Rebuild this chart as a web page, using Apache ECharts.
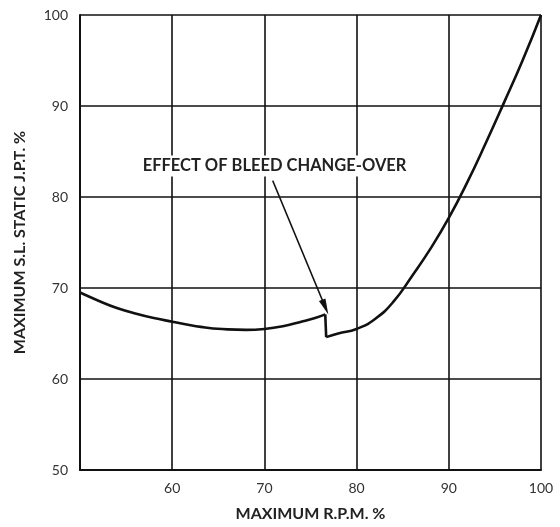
<!DOCTYPE html>
<html>
<head>
<meta charset="utf-8">
<script src="https://cdn.jsdelivr.net/npm/echarts@6/dist/echarts.min.js"></script>
<style>html,body{margin:0;padding:0;background:#fff;}#c{width:560px;height:527px;}</style>
</head>
<body>
<div id="c"></div>
<script>
// RPM % (x) and J.P.T. % (y), before bleed change-over
var rpmBefore = [50, 52, 54, 56, 58, 60, 62, 64, 66, 68, 70, 72, 74, 75.5, 76.6];
var jptBefore = [69.5, 68.6, 67.8, 67.2, 66.7, 66.3, 65.9, 65.6, 65.45, 65.4, 65.5, 65.8, 66.3, 66.7, 67.1];
// after bleed change-over
var rpmAfter = [76.7, 78, 80, 82, 84, 86, 88, 90, 92, 94, 96, 98, 100];
var jptAfter = [64.6, 65.0, 65.5, 66.6, 68.5, 71.3, 74.3, 77.7, 81.6, 85.9, 90.4, 95.0, 100];
var xTicks = [50, 60, 70, 80, 90, 100];
var yTicks = [50, 60, 70, 80, 90, 100];
var annotationText = 'EFFECT OF BLEED CHANGE-OVER';
var xName = 'MAXIMUM R.P.M. %';
var yName = 'MAXIMUM S.L. STATIC J.P.T. %';

function pairs(xs, ys) { return xs.map(function (x, i) { return [x, ys[i]]; }); }
var before = pairs(rpmBefore, jptBefore);
var after = pairs(rpmAfter, jptAfter);
var jump = [before[before.length - 1], after[0]];

var font = 'Lato, "Open Sans", sans-serif';
var chart = echarts.init(document.getElementById('c'), null, {renderer: 'canvas'});
var lineStyle = {color: '#111', width: 2.6};
chart.setOption({
  animation: false,
  backgroundColor: '#fff',
  grid: {left: 80, right: 19, top: 15, bottom: 54, show: false},
  xAxis: {
    type: 'value', min: xTicks[0], max: xTicks[xTicks.length - 1], interval: 10,
    name: xName, nameLocation: 'middle', nameGap: 36,
    nameTextStyle: {fontFamily: font, fontSize: 16, color: '#222', fontWeight: 'bold'},
    axisLine: {show: true, onZero: false, lineStyle: {color: '#111', width: 2}},
    axisTick: {show: false},
    axisLabel: {margin: 11, fontFamily: font, fontSize: 14, color: '#333',
      formatter: function (v) { return v === xTicks[0] ? '' : String(v); }},
    splitLine: {show: true, lineStyle: {color: '#111', width: 1.6}}
  },
  yAxis: {
    type: 'value', min: yTicks[0], max: yTicks[yTicks.length - 1], interval: 10,
    name: yName, nameLocation: 'middle', nameGap: 52, nameRotate: 90,
    nameTextStyle: {fontFamily: font, fontSize: 16, color: '#222', fontWeight: 'bold'},
    axisLine: {show: true, onZero: false, lineStyle: {color: '#111', width: 2}},
    axisTick: {show: false},
    axisLabel: {margin: 12, fontFamily: font, fontSize: 14, color: '#333'},
    splitLine: {show: true, lineStyle: {color: '#111', width: 1.6}}
  },
  series: [
    {type: 'line', data: before, smooth: 0.4, symbol: 'none', lineStyle: lineStyle, z: 5},
    {type: 'line', data: jump, smooth: false, symbol: 'none', lineStyle: lineStyle, z: 5},
    {type: 'line', data: after, smooth: 0.5, symbol: 'none', lineStyle: lineStyle, z: 5,
      markLine: {
        silent: true, symbol: ['none', 'triangle'], symbolSize: [7, 16],
        lineStyle: {color: '#111', width: 1.5, type: 'solid'},
        label: {show: false},
        data: [[{coord: [70.9, 81.8]}, {coord: [76.6, 67.9]}]]
      },
      markPoint: {
        silent: true, symbol: 'rect', symbolSize: 1, itemStyle: {color: 'rgba(0,0,0,0)'},
        label: {show: true, position: 'inside', formatter: annotationText,
          fontFamily: font, fontSize: 16.5, color: '#222', fontWeight: 'bold',
          backgroundColor: '#fff', padding: [2, 3]},
        data: [{coord: [71.1, 83.4]}]
      }
    }
  ]
});
</script>
</body>
</html>
